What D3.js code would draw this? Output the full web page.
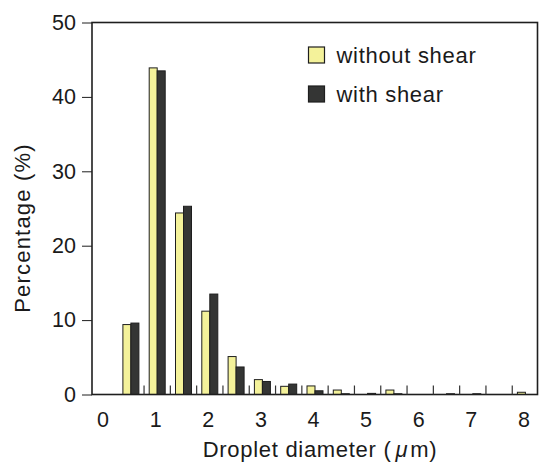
<!DOCTYPE html>
<html lang="en">
    <head>
        <meta charset="utf-8">
        <title>Droplet size distribution</title>
        <script src="https://d3js.org/d3.v7.min.js"></script>
        <style type="text/css">
            body { margin: 0; background: #fff; }
            text { font-family: "Liberation Sans", Arial, sans-serif; fill: #1a1a1a; }
        </style>
    </head>
    <body>
        <svg width="539" height="463"></svg>
        <script type="text/javascript">

            // bin centres (um) and percentages
            const diameters = [0.5, 1, 1.5, 2, 2.5, 3, 3.5, 4, 4.5, 5, 5.5, 6, 6.5, 7, 7.5, 8];
            const withoutShear = [9.4, 43.9, 24.4, 11.2, 5.1, 2.0, 1.1, 1.15, 0.6, 0, 0.6, 0, 0, 0, 0, 0.3];
            const withShear = [9.6, 43.5, 25.3, 13.5, 3.7, 1.75, 1.4, 0.5, 0.1, 0.15, 0.1, 0, 0.1, 0.1, 0, 0];
            const seriesNames = ["without shear", "with shear"];
            const xTickLabels = [0, 1, 2, 3, 4, 5, 6, 7, 8];
            const yTickLabels = [0, 10, 20, 30, 40, 50];

            const svg = d3.select("svg");
            const colors = ["#f4f29a", "#343534"];

            // plot frame
            const plotLeft = 92, plotRight = 537.5, plotTop = 22.5, plotBottom = 394.5;

            const xScale = d3.scaleLinear()
                             .domain([0, 8])
                             .range([104.6, 104.6 + 8 * 52.6]);
            const yScale = d3.scaleLinear()
                             .domain([0, 50])
                             .range([plotBottom, plotTop]);

            const barW = 8;

            const rows = diameters.map((d, i) => ({d: d, vals: [withoutShear[i], withShear[i]]}));

            // bars
            const groups = svg.selectAll("g.bin")
               .data(rows)
               .enter()
               .append("g")
               .attr("class", "bin");

            groups.selectAll("rect")
               .data(r => r.vals.map((v, k) => ({d: r.d, v: v, k: k})).filter(o => o.v > 0))
               .enter()
               .append("rect")
               .attr("x", o => xScale(o.d) - barW + o.k * barW)
               .attr("y", o => yScale(o.v))
               .attr("width", barW)
               .attr("height", o => yScale(0) - yScale(o.v))
               .style("fill", o => colors[o.k])
               .style("stroke", "#1e1e1e")
               .style("stroke-width", 1);

            // frame
            svg.append("rect")
               .attr("x", plotLeft)
               .attr("y", plotTop)
               .attr("width", plotRight - plotLeft)
               .attr("height", plotBottom - plotTop)
               .style("fill", "none")
               .style("stroke", "#1e1e1e")
               .style("stroke-width", 1.6);

            // y axis
            const yAxis = d3.axisLeft(yScale)
                            .tickValues(yTickLabels)
                            .tickSize(10)
                            .tickPadding(6);
            const gy = svg.append("g")
               .attr("transform", `translate(${plotLeft},0)`)
               .call(yAxis);
            gy.select(".domain").remove();
            gy.selectAll("line").style("stroke", "#1e1e1e");
            gy.selectAll("text").style("font-size", "21.5px").style("fill", "#1a1a1a");

            // x axis labels
            const xAxis = d3.axisBottom(xScale)
                            .tickValues(xTickLabels)
                            .tickSize(0)
                            .tickPadding(17);
            const gx = svg.append("g")
               .attr("transform", `translate(-2,${plotBottom})`)
               .call(xAxis);
            gx.select(".domain").remove();
            gx.selectAll("text").style("font-size", "21.5px").style("fill", "#1a1a1a");

            // inward ticks at bin edges
            const edges = diameters.map(d => d - 0.25).slice(1);
            svg.selectAll("line.edge")
               .data(edges)
               .enter()
               .append("line")
               .attr("class", "edge")
               .attr("x1", d => xScale(d))
               .attr("x2", d => xScale(d))
               .attr("y1", plotBottom)
               .attr("y2", plotBottom - 9)
               .style("stroke", "#333")
               .style("stroke-width", 1.2);

            // axis titles
            const xt = svg.append("text")
               .attr("x", 320)
               .attr("y", 457)
               .attr("text-anchor", "middle")
               .style("font-size", "22px")
               .style("letter-spacing", "0.7px");
            xt.append("tspan").text("Droplet diameter (");
            xt.append("tspan").attr("dx", 4).style("font-style", "italic").text("\u03bc");
            xt.append("tspan").attr("dx", 2).text("m)");

            svg.append("text")
               .attr("transform", "translate(30,228) rotate(-90)")
               .attr("text-anchor", "middle")
               .style("font-size", "22px")
               .style("letter-spacing", "1.2px")
               .text("Percentage (%)");

            // legend
            const legend = svg.selectAll("g.legend")
               .data(seriesNames)
               .enter()
               .append("g")
               .attr("class", "legend")
               .attr("transform", (d, i) => `translate(308.5,${47 + i * 39})`);
            legend.append("rect")
               .attr("width", 16)
               .attr("height", 16)
               .style("fill", (d, i) => colors[i])
               .style("stroke", "#1e1e1e")
               .style("stroke-width", 1.2);
            legend.append("text")
               .attr("x", 28)
               .attr("y", 16)
               .style("font-size", "22px")
               .style("letter-spacing", "0.7px")
               .text(d => d);

        </script>
    </body>
</html>
